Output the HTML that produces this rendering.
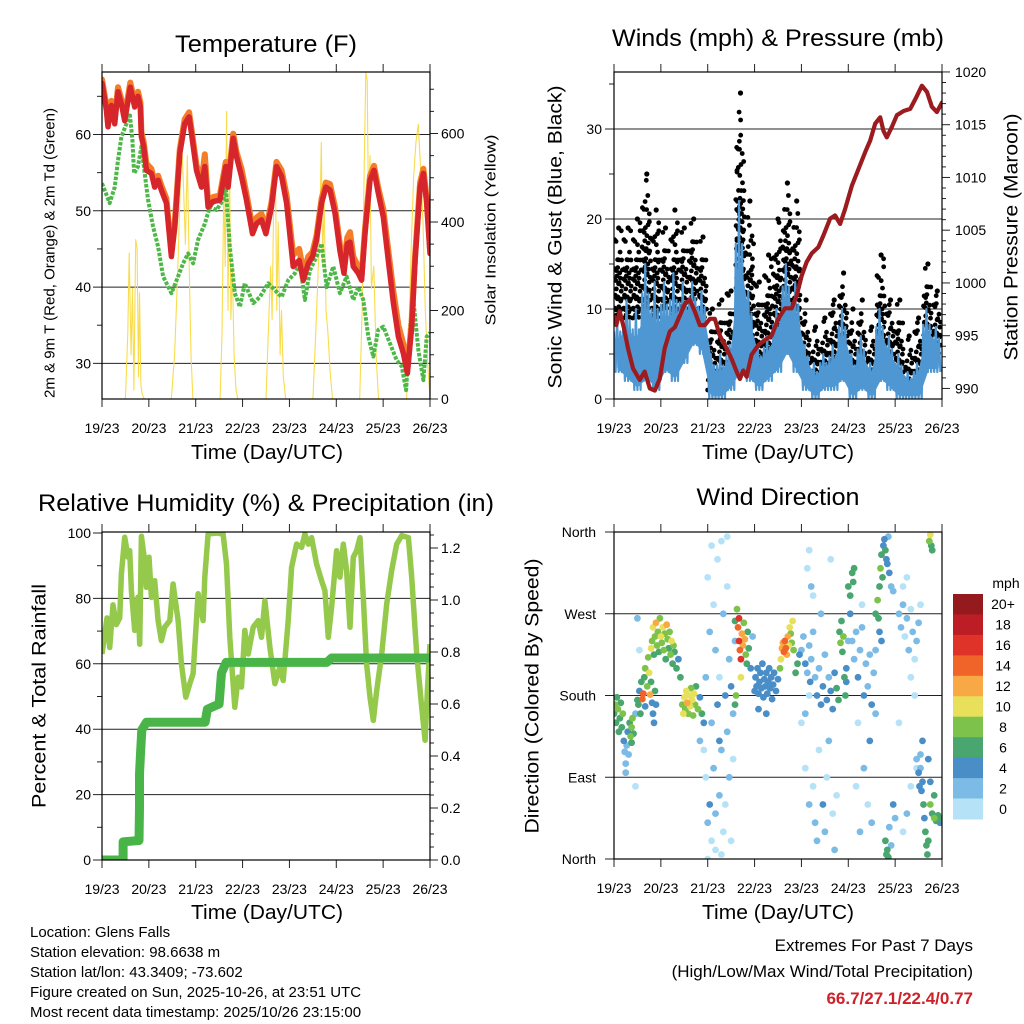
<!DOCTYPE html>
<html><head><meta charset="utf-8"><title>Glens Falls Meteogram</title>
<style>
html,body{margin:0;padding:0;background:#fff;}
svg{display:block;font-family:"Liberation Sans",Arial,sans-serif;}
.tl{font-size:14px;fill:#000;}
</style></head>
<body>
<svg id="chart" width="1024" height="1024" viewBox="0 0 1024 1024" xmlns="http://www.w3.org/2000/svg">
<defs>
<clipPath id="c1"><rect x="102" y="72" width="328" height="327"/></clipPath>
<clipPath id="c2"><rect x="614" y="72" width="328" height="327"/></clipPath>
<clipPath id="c3"><rect x="102" y="532" width="328" height="328"/></clipPath>
<clipPath id="c4"><rect x="614" y="532" width="328" height="327"/></clipPath>
</defs>
<rect x="0" y="0" width="1024" height="1024" fill="#fff"/>

<text x="266" y="52" font-size="24" text-anchor="middle" textLength="182" lengthAdjust="spacingAndGlyphs">Temperature (F)</text>
<text x="778" y="46" font-size="24" text-anchor="middle" textLength="332" lengthAdjust="spacingAndGlyphs">Winds (mph) &amp; Pressure (mb)</text>
<text x="266" y="511" font-size="24" text-anchor="middle" textLength="456" lengthAdjust="spacingAndGlyphs">Relative Humidity (%) &amp; Precipitation (in)</text>
<text x="778" y="505" font-size="24" text-anchor="middle" textLength="163" lengthAdjust="spacingAndGlyphs">Wind Direction</text>

<text x="267" y="459" font-size="20" text-anchor="middle" textLength="152" lengthAdjust="spacingAndGlyphs">Time (Day/UTC)</text>
<text x="778" y="459" font-size="20" text-anchor="middle" textLength="152" lengthAdjust="spacingAndGlyphs">Time (Day/UTC)</text>
<text x="267" y="919" font-size="20" text-anchor="middle" textLength="152" lengthAdjust="spacingAndGlyphs">Time (Day/UTC)</text>
<text x="778" y="919" font-size="20" text-anchor="middle" textLength="152" lengthAdjust="spacingAndGlyphs">Time (Day/UTC)</text>

<text transform="translate(50,253) rotate(-90)" font-size="15" text-anchor="middle" dominant-baseline="central" textLength="290" lengthAdjust="spacingAndGlyphs">2m &amp; 9m T (Red, Orange) &amp; 2m Td (Green)</text>
<text transform="translate(491,230) rotate(-90)" font-size="15" text-anchor="middle" dominant-baseline="central" textLength="191" lengthAdjust="spacingAndGlyphs">Solar Insolation (Yellow)</text>
<text transform="translate(556,237) rotate(-90)" font-size="19" text-anchor="middle" dominant-baseline="central" textLength="303" lengthAdjust="spacingAndGlyphs">Sonic Wind &amp; Gust (Blue, Black)</text>
<text transform="translate(1012,237) rotate(-90)" font-size="19" text-anchor="middle" dominant-baseline="central" textLength="247" lengthAdjust="spacingAndGlyphs">Station Pressure (Maroon)</text>
<text transform="translate(40,696) rotate(-90)" font-size="19" text-anchor="middle" dominant-baseline="central" textLength="224" lengthAdjust="spacingAndGlyphs">Percent &amp; Total Rainfall</text>
<text transform="translate(533,696) rotate(-90)" font-size="19" text-anchor="middle" dominant-baseline="central" textLength="275" lengthAdjust="spacingAndGlyphs">Direction (Colored By Speed)</text>

<g font-size="15">
<text x="30" y="937">Location: Glens Falls</text>
<text x="30" y="957">Station elevation: 98.6638 m</text>
<text x="30" y="977">Station lat/lon: 43.3409; -73.602</text>
<text x="30" y="997">Figure created on Sun, 2025-10-26, at 23:51 UTC</text>
<text x="30" y="1017">Most recent data timestamp: 2025/10/26 23:15:00</text>
</g>
<g text-anchor="end">
<text x="973" y="951" font-size="17">Extremes For Past 7 Days</text>
<text x="973" y="977" font-size="17">(High/Low/Max Wind/Total Precipitation)</text>
<text x="973" y="1004" font-size="17" font-weight="bold" fill="#cc2229">66.7/27.1/22.4/0.77</text>
</g>
<text x="1006" y="588" font-size="14" text-anchor="middle">mph</text>
</svg>

<script>
// ---------- Data ----------
const dayLabels = ['19/23','20/23','21/23','22/23','23/23','24/23','25/23','26/23'];
const tempTimes = [0,.093,.128,.199,.271,.342,.413,.484,.605,.698,.769,.819,.840,.890,.947,1.054,1.125,1.197,1.268,1.375,1.481,1.553,1.660,1.766,1.859,1.909,2.016,2.123,2.194,2.265,2.372,2.514,2.642,2.692,2.799,2.870,2.977,3.084,3.212,3.298,3.405,3.497,3.618,3.725,3.832,3.939,4.081,4.209,4.295,4.402,4.494,4.580,4.687,4.779,4.865,4.972,5.078,5.164,5.235,5.292,5.363,5.470,5.541,5.613,5.720,5.805,5.897,6.004,6.111,6.218,6.325,6.432,6.517,6.610,6.681,6.788,6.859,6.930,7.0];
const temp2m = [66.7,63.2,61,63.8,61.4,65.6,64,61.8,66.2,63.6,65,63.6,59.7,58.4,55.3,54.9,53.1,54,52.7,51,44,47.9,57.5,61.4,62.3,60.1,55.3,53.1,55.8,50.5,51.2,51.4,55.8,53.1,59.5,57.1,54.5,51.4,47,48.3,48.8,47,50.5,55.8,54.5,51,42.7,43.5,40.9,43.1,44,46.2,51,53.1,52.7,49.7,44.8,41.8,45.7,45.9,42.7,41.8,40.9,47,54,55.3,52.3,49.2,43.5,37.9,33.5,31.3,28.7,34.8,43.5,53.1,54.9,51,44.4];
const temp9m = [67.2,63.8,61.6,64.4,62,66.2,64.6,62.4,66.8,64.2,65.6,64.2,60.3,59,56.2,55.5,53.7,54.6,53.3,51.6,44.6,48.5,58.1,62,62.9,60.7,56,53.8,57.4,51.1,51.8,52,56.4,53.7,60.1,57.7,55.5,52.2,47.8,49.1,49.6,47.6,51.1,56.4,55.3,52,44.2,45,42,44,44.6,46.8,51.6,53.7,53.5,50.5,45.6,43,46.5,47.2,44,42.6,41.5,47.6,54.6,55.9,53,50.2,44.8,39.4,35,32.5,29.3,35.4,44.1,53.7,55.5,51.6,45];
const dewTimes = [0,.164,.271,.342,.413,.520,.591,.648,.684,.769,.840,.912,.983,1.090,1.197,1.303,1.481,1.624,1.731,1.838,1.944,2.051,2.194,2.301,2.443,2.585,2.642,2.728,2.835,2.942,3.048,3.226,3.369,3.547,3.689,3.832,3.974,4.117,4.224,4.330,4.437,4.580,4.687,4.793,4.936,5.078,5.221,5.363,5.470,5.577,5.684,5.791,5.897,6.004,6.147,6.289,6.396,6.489,6.574,6.645,6.752,6.859,6.930,7.0];
const dew2m = [53.6,51,53.1,56.6,59.7,61.4,62.8,59.3,54.9,55.8,58.4,54.9,51.4,47.9,45.3,41.4,39.2,41.4,43.1,44.4,43.1,46.2,48.3,50.5,50.1,51.4,53.1,45.3,39.2,37.4,40.5,37.9,38.7,40.5,39.6,38.7,40.9,41.8,43.1,38.3,42.2,44,45.7,40,42.7,39.2,41.4,38.3,40,38.3,33.5,30.9,34.4,34.8,32.6,30.4,29.6,26.5,34.8,38.3,31.7,27.8,33.5,34];
const solarTimes = [0,0.5,0.55,0.58,0.62,0.65,0.68,0.72,0.75,0.78,0.8,0.83,0.86,0.9,1.48,1.55,1.62,1.66,1.7,1.74,1.78,1.82,1.86,1.9,1.94,2.52,2.56,2.6,2.63,2.66,2.69,2.72,2.75,2.78,2.82,2.86,2.9,3.5,3.55,3.6,3.63,3.67,3.7,3.73,3.76,3.8,3.83,3.87,3.92,4.5,4.55,4.6,4.65,4.68,4.71,4.74,4.78,4.82,4.87,4.92,5.5,5.55,5.6,5.63,5.66,5.69,5.72,5.75,5.8,5.85,5.9,6.5,6.55,6.6,6.65,6.7,6.75,6.8,6.85,6.9,6.95,7];
const solarVals = [0,0,150,330,100,250,20,360,340,50,240,30,10,0,0,100,300,450,580,480,350,550,300,100,0,0,150,480,300,650,200,550,180,300,100,20,0,0,150,300,180,500,520,200,400,100,200,50,0,0,120,250,400,580,300,450,200,150,60,0,0,200,550,740,720,400,550,250,300,100,0,0,150,350,500,580,620,520,400,200,80,0];
const windLo = [3,2,1,2,1,3,2,4,6,5,0,0,1,3,2,1,2,3,5,3,1,0,1,1,2,0,1,0,2,1,0,0,0,3,3];
const windHi = [9,11,10,15,13,13,14,13,13,12,5,5,6,22,12,6,7,10,15,13,6,4,5,6,10,5,7,4,10,7,5,3,4,10,8];
const gustLo = [9,9,9,10,9,10,9,10,11,9,1,2,3,8,5,4,5,7,10,8,3,2,3,4,6,2,3,2,5,4,2,1,2,6,5];
const gustHi = [19,19,20,25,21,19,21,19,20,18,10,11,12,34,22,13,16,20,24,22,11,8,9,11,14,10,11,8,16,11,11,7,9,15,12];
const presTimes = [0,.05,.121,.214,.299,.406,.549,.656,.763,.870,.976,1.083,1.190,1.297,1.404,1.511,1.618,1.725,1.832,1.939,2.046,2.152,2.259,2.366,2.509,2.616,2.687,2.758,2.830,2.937,3.079,3.222,3.364,3.507,3.649,3.792,3.899,4.006,4.113,4.219,4.362,4.469,4.611,4.718,4.825,4.932,5.075,5.217,5.360,5.467,5.574,5.681,5.752,5.823,5.930,6.037,6.180,6.322,6.429,6.572,6.679,6.785,6.892,7.0];
const presVals = [996.8,996,997.3,995.7,993.8,991.9,990.8,991.6,990,989.8,990.9,993.8,995.4,995.8,996.9,998,998.4,997.3,996,996,996.6,996.6,995,994.1,992.8,991.6,990.9,991.7,991.1,993.2,994.1,994.6,995,996.6,997.6,997.6,998.8,1000.7,1002,1002.8,1003.4,1004.5,1006.1,1006.4,1005.6,1007,1009.2,1010.8,1012.4,1013.5,1015.1,1015.7,1014.4,1013.8,1014.8,1015.9,1016.3,1016.5,1017.4,1018.7,1018.1,1016.7,1016.2,1017.1];
const rhTimes = [0,.057,.107,.164,.235,.306,.377,.413,.484,.556,.591,.627,.698,.769,.805,.840,.912,.947,1.004,1.054,1.125,1.197,1.268,1.339,1.446,1.517,1.624,1.695,1.788,1.873,1.944,2.051,2.158,2.194,2.265,2.443,2.585,2.657,2.728,2.835,2.906,2.977,3.048,3.120,3.226,3.333,3.405,3.476,3.583,3.689,3.796,3.868,3.974,4.046,4.152,4.259,4.330,4.402,4.473,4.580,4.687,4.758,4.829,4.900,5.007,5.078,5.150,5.221,5.292,5.363,5.434,5.506,5.577,5.648,5.719,5.791,5.862,5.969,6.075,6.182,6.289,6.396,6.538,6.610,6.716,6.823,6.895,6.944,7.0];
const rhVals = [63,69,74,65,78,72,74,87.5,98.7,92.6,94.6,82.4,70.2,80.4,66,99,91.5,83.4,92.6,80.3,85.4,73.2,67.1,71.2,73.2,84.4,73.2,60,49.8,53.9,57,81.4,73.2,86.5,99.7,100,99.7,90.5,68.1,46.7,55.9,52.9,70.2,63,71.2,73.2,68.1,79.3,65,53.9,59,54.9,73.2,89.5,96.6,95.6,99.7,96.6,98.6,90.5,85.4,82.4,68.1,77.3,94.6,86.5,96.6,88.6,71.2,92.6,94.6,98.6,80.3,60,49.8,42.7,51.8,63,78.3,88.6,96.6,99.2,98.6,86.5,63,46.7,36.6,51.8,66];
const precipTimes = [0,0.45,0.45,0.79,0.8,0.8,0.82,0.85,0.95,2.2,2.25,2.5,2.55,2.65,4.8,4.9,7];
const precipVals = [0,0,0.07,0.075,0.2,0.33,0.4,0.5,0.53,0.53,0.58,0.6,0.72,0.76,0.76,0.777,0.777];
// Wind direction observations: [hours since 19/23, direction deg, speed mph]
const dirObs = [
[0,160,7],[0.5,170,8],[1,150,6],[1.5,178,7],[2,165,8],[2.5,140,6],[3,155,7],[3.5,172,6],[4,145,6],[4.5,160,8],[5,130,4],[5.5,118,3],[6,105,2],[6,95,2],[6.5,125,3],[7,140,5],[7.5,115,3],[8,150,7],[8.5,135,8],[9,145,9],[9,128,7],[9.5,155,8],[10,138,6],[11,160,3],[12,175,6],[11,80,1],
[12.5,170,6],[13,185,5],[13.5,160,7],[14,195,6],[14.5,176,15],[15,182,14],[15.5,200,6],[16,210,8],[16,168,4],[17,190,9],[17.5,222,8],[18,205,11],[18.5,181,12],[19,195,6],[19.5,172,4],[20,160,5],[20.5,150,4],[21,185,6],[21.5,170,4],[13,230,1],[12,265,2],
[19,232,10],[19.5,240,8],[20,255,10],[20.5,225,6],[21,245,9],[21.5,260,12],[22,235,8],[22.5,250,9],[23,228,7],[23.5,265,8],[24,245,10],[24.5,238,9],[25,255,11],[25.5,230,8],[26,248,9],[26.5,220,6],[27,258,12],[27.5,242,8],[28,232,7],[28.5,250,9],[29,225,8],[29.5,240,10],[30,215,7],[30.5,235,8],[31,228,6],[32,210,7],[33,220,5],[34,200,6],
[35,170,9],[35.5,160,10],[36,178,11],[36.5,165,9],[37,185,10],[37.5,172,12],[38,160,8],[38.5,180,10],[39,168,11],[39.5,188,9],[40,175,10],[40.5,158,8],[41,182,10],[41.5,170,9],[42,190,7],[43,165,8],[44,178,5],[45,160,6],[46,150,4],[44,130,2],
[46,120,1],[47,200,2],[47,90,1],[48,40,2],[48,310,1],[49,250,3],[49,60,4],[50,20,1],[50,150,2],[51,280,1],[51,100,3],[52,230,2],[52,10,1],[53,330,1],[53,170,4],[54,70,2],[54,200,1],[55,350,1],[55,120,3],[56,270,2],[56,30,1],[57,180,4],[57,60,1],[58,140,2],[58,300,1],[59,90,2],[59,220,3],[60,20,1],[60,190,4],[61,160,2],[61,110,1],[62,240,3],[48,0,1],[55,5,1],[58,355,1],[50,345,1],[52,50,3],[54,130,4],
[62,262,7],[63,275,8],[63.5,255,15],[64,265,17],[64,240,16],[64.5,230,15],[65,220,16],[65,200,10],[65.5,248,13],[66,235,12],[66.5,260,9],[67,242,13],[67.5,225,8],[68,215,7],[68.5,250,7],[69,232,6],[70,210,4],[71,245,3],[62,170,7],[62.5,180,8],
[72,185,4],[72.5,200,5],[73,190,4],[73.5,210,5],[74,182,4],[74.5,195,5],[75,205,4],[75.5,188,5],[76,215,4],[76.5,178,5],[77,198,4],[77.5,190,5],[78,205,4],[78.5,182,5],[79,195,4],[79.5,210,4],[80,188,5],[80.5,200,4],[81,176,4],[81.5,192,5],[82,205,4],[83,185,5],[84,198,4],[74,165,4],[78,160,4],
[85,210,8],[85.5,220,10],[86,232,12],[86.5,238,13],[87,228,14],[87.5,240,15],[88,232,14],[88.5,225,12],[89,245,13],[89.5,235,11],[90,255,10],[90.5,248,9],[91,238,8],[91.5,262,10],[92,230,8],[93,205,6],[94,215,7],[95,225,5],
[96,230,3],[97,245,2],[98,215,4],[99,205,3],[100,235,2],[100.5,195,4],[101,220,3],[102,250,2],[103,200,3],[104,180,4],[105,210,3],[106,170,5],[107,190,4],[108,225,3],[109,175,4],[110,200,3],[111,185,5],[112,165,4],[113,205,4],[114,188,6],[115,175,7],[115.5,250,7],[116,238,8],[116.5,262,7],[117,228,6],[117.5,245,8],[118,200,6],[118.5,180,7],[119,195,5],[100,180,1],[98,160,2],[96,150,1],
[99,320,1],[100,340,1],[101,300,2],[102,290,1],[98,100,1],[100,60,2],[102,80,1],[103,40,2],[104,20,3],[105,120,1],[107,60,4],[108,30,3],[109,90,1],[110,130,2],[112,50,1],[113,10,2],[114,70,1],[111,330,1],[106,270,2],
[120,300,7],[121,290,6],[122,315,7],[122.5,305,6],[123,320,7],[121,270,4],[120,240,3],[119,210,4],
[122,240,3],[123,220,2],[124,250,3],[125,200,4],[126,230,2],[127,255,3],[128,180,4],[129,215,3],[130,190,2],[131,225,3],[132,170,4],[133,205,3],[134,160,2],[127,280,1],[125,150,1],[128,100,2],[130,60,1],[126,30,2],[124,80,1],[131,130,4],[132,40,2],
[134,270,7],[135,285,8],[135.5,265,6],[136,300,7],[136.5,320,8],[137,335,7],[137.5,310,6],[138,345,5],[138.5,352,4],[139,340,6],[139.5,330,4],[140,325,5],[140.5,355,3],[141,315,4],[142,300,3],[143,295,2],[136,250,5],[137,240,4],[134,230,3],
[139,20,6],[139.5,5,7],[140,10,6],[141,35,2],[142,15,3],[140.5,2,6],[143,60,4],[144,45,3],
[146,270,2],[147,255,3],[148,280,2],[149,245,1],[150,265,2],[151,230,3],[152,275,1],[153,250,2],[154,220,1],[155,240,2],[156,260,3],[157,280,1],[148,300,1],[150,310,1],[152,200,1],[154,180,1],[146,150,1],[150,50,2],[152,80,1],[148,30,1],[155,100,1],
[155,110,3],[156,95,4],[156.5,80,4],[157,100,3],[157.5,75,5],[158,85,4],[158.5,60,6],[159,45,5],[159.5,30,6],[160,15,7],[160.5,5,7],[161,20,6],[158,130,4],[157,115,2],
[161.5,350,9],[162,357,10],[162.5,345,7],[163,340,6],[162,60,8],[163,50,7],[164,45,8],[165,42,7],[166,48,6],[167,40,5],[168,44,6],[164,70,7],[161,110,4],[162,85,4]
];
const speedLabels = ['0','2','4','6','8','10','12','14','16','18','20+'];
const speedColors = ['#b5e2f7','#7cbbe6','#4a8ec8','#49a66f','#7cc24b','#e8e05a','#f8a945','#f06329','#df3329','#bd1d25','#951a1e'];

// ---------- Helpers ----------
const NS = 'http://www.w3.org/2000/svg';
const svg = document.getElementById('chart');
function mk(tag, attrs, parent) {
  const e = document.createElementNS(NS, tag);
  for (const k in attrs) e.setAttribute(k, attrs[k]);
  (parent || svg).appendChild(e);
  return e;
}
const DAYW = 328 / 7;
const xL = t => 102 + t * DAYW;
const xR = t => 614 + t * DAYW;
const yTemp = v => 399 - (v - 25.33) * 7.63;
const ySol = w => 399 - w * 0.4425;
const yWind = v => 399 - v * 9;
const yPres = p => 399 - (p - 989) * 10.55;
const yRH = v => 860 - v * 3.27;
const yPr = v => 860 - v * 260;
const yDir = d => 859 - d * 0.9083;

function pathFrom(xs, ys, fx, fy) {
  let d = '';
  for (let i = 0; i < xs.length; i++) d += (i ? 'L' : 'M') + fx(xs[i]).toFixed(1) + ',' + fy(ys[i]).toFixed(1);
  return d;
}

// ---------- Axes ----------
function grid(name, x0, x1, y) {
  const l = mk('line', {x1: x0 - 9, x2: x1, y1: y, y2: y, stroke: '#222', 'stroke-width': 1});
  
  
}
function tick(name, x1, y1, x2, y2) {
  const l = mk('line', {x1: x1, y1: y1, x2: x2, y2: y2, stroke: '#222', 'stroke-width': 1});
  
  
}
function label(name, x, y, txt, anchor) {
  const t = mk('text', {x: x, y: y, class: 'tl', 'text-anchor': anchor || 'middle', 'dominant-baseline': 'central'});
  t.textContent = txt;
  
  
}
function xAxis(x0, top, bot, prefix) {
  for (let d = 0; d < dayLabels.length; d++) {
    const x = x0 + d * DAYW;
    tick(prefix + '-x-tick', x, top - 8, x, top);
    tick(prefix + '-x-tick', x, bot, x, bot + 8);
    label(prefix + '-x-tick-label', x, bot + 29, dayLabels[d]);
  }
}
function frame(name, x, y, w, h) {
  const r = mk('rect', {x: x, y: y, width: w, height: h, fill: 'none', stroke: '#000', 'stroke-width': 1.2});
  
  
}

for (const v of [30, 40, 50, 60]) { grid('temp-gridline', 102, 430, yTemp(v)); label('temp-y-tick-label', 91, yTemp(v), String(v), 'end'); }
for (const v of [35, 45, 55, 65]) tick('temp-minor-tick', 97, yTemp(v), 102, yTemp(v));
for (let w = 0; w <= 700; w += 50) { const big = w % 200 === 0; tick('solar-tick', 430, ySol(w), 430 + (big ? 8 : 4), ySol(w)); if (big) label('solar-y-tick-label', 441, ySol(w), String(w), 'start'); }
xAxis(102, 72, 399, 'temp');
for (const v of [0, 10, 20, 30]) { grid('wind-gridline', 614, 942, yWind(v)); label('wind-y-tick-label', 602, yWind(v), String(v), 'end'); }
for (const v of [5, 15, 25, 35]) tick('wind-minor-tick', 609, yWind(v), 614, yWind(v));
for (let p = 990; p <= 1020; p++) { const big = p % 5 === 0; tick('pressure-tick', 942, yPres(p), 942 + (big ? 8 : 4), yPres(p)); if (big) label('pressure-y-tick-label', 955, yPres(p), String(p), 'start'); }
xAxis(614, 72, 399, 'wind');
for (const v of [0, 20, 40, 60, 80, 100]) { if (v > 0 && v < 100) grid('rh-gridline', 102, 430, yRH(v)); else tick('rh-tick', 93, yRH(v), 102, yRH(v)); label('rh-y-tick-label', 91, yRH(v), String(v), 'end'); }
for (const v of [10, 30, 50, 70, 90]) tick('rh-minor-tick', 97, yRH(v), 102, yRH(v));
for (let k = 0; k <= 25; k++) { const v = k * 0.05; const big = k % 4 === 0; tick('precip-tick', 430, yPr(v), 430 + (big ? 8 : 4), yPr(v)); if (big) label('precip-y-tick-label', 441, yPr(v), v.toFixed(1), 'start'); }
xAxis(102, 532, 860, 'rh');
const dirNames = ['North', 'East', 'South', 'West', 'North'];
for (let i = 0; i < 5; i++) { const d = i * 90; if (i > 0 && i < 4) grid('dir-gridline', 614, 942, yDir(d)); else tick('dir-tick', 605, yDir(d), 614, yDir(d)); label('dir-y-tick-label', 596, yDir(d), dirNames[i], 'end'); }
xAxis(614, 532, 859, 'dir');

// ---------- Panel 1 series ----------
const g1 = mk('g', {'clip-path': 'url(#c1)'});


const sol = mk('path', {d: pathFrom(solarTimes, solarVals, xL, ySol), fill: 'none', stroke: '#f9dc4c', 'stroke-width': 1.1, 'stroke-linejoin': 'round'}, g1);


const dp = mk('path', {d: pathFrom(dewTimes, dew2m, xL, yTemp), fill: 'none', stroke: '#4db848', 'stroke-width': 4, 'stroke-dasharray': '3.5 1.5', 'stroke-linejoin': 'round'}, g1);


const t9 = mk('path', {d: pathFrom(tempTimes, temp9m, xL, yTemp), fill: 'none', stroke: '#f47d2a', 'stroke-width': 6, 'stroke-linejoin': 'round', 'stroke-linecap': 'round'}, g1);


const t2 = mk('path', {d: pathFrom(tempTimes, temp2m, xL, yTemp), fill: 'none', stroke: '#d7262b', 'stroke-width': 5.5, 'stroke-linejoin': 'round', 'stroke-linecap': 'round'}, g1);


frame('temperature-frame', 102, 72, 328, 327);

// ---------- Panel 2 series ----------
const g2 = mk('g', {'clip-path': 'url(#c2)'});


const BIN = 0.2;
const NB = windHi.length;
// gust dots (scattered layout within each bin's gust range)
for (let i = 0; i < NB; i++) {
  const span = gustHi[i] - gustLo[i];
  for (let j = 0; j < 7; j++) {
    const t = i * BIN + 0.012 + j * 0.026;
    let k = 0;
    let v = gustLo[i] + ((j * 0.61) % 1) * 1.5;
    while (v <= gustHi[i] - 0.3) {
      const frac = (v - gustLo[i]) / (span || 1);
      if (!(frac > 0.55 && (j + k) % 2 === 1) && !(frac > 0.8 && (j + k) % 3 !== 0)) {
        const dx = (((k * 7 + j * 3) % 5) - 2) * 0.006;
        const c = mk('circle', {cx: xR(t + dx).toFixed(1), cy: yWind(v).toFixed(1), r: 2.4, fill: '#000'}, g2);
        
        
      }
      v += 1.1 + ((k + j) % 3) * 0.35;
      k++;
    }
  }
  const top = mk('circle', {cx: xR(i * BIN + 0.1).toFixed(1), cy: yWind(gustHi[i]).toFixed(1), r: 2.6, fill: '#000'}, g2);
  
  
}
// blue band core: smooth between bin centres
let bandTop = '', bandBot = '';
for (let i = 0; i < NB; i++) {
  const x = xR(i * BIN + BIN / 2).toFixed(1);
  const core = windLo[i] + (windHi[i] - windLo[i]) * 0.6;
  bandTop += (i ? 'L' : 'M') + x + ',' + yWind(core).toFixed(1);
}
for (let i = NB - 1; i >= 0; i--) {
  bandBot += 'L' + xR(i * BIN + BIN / 2).toFixed(1) + ',' + yWind(windLo[i] + 0.5).toFixed(1);
}
const band = mk('path', {d: bandTop + bandBot + 'Z', fill: '#4f97d3', stroke: '#4f97d3', 'stroke-width': 3, 'stroke-linejoin': 'round'}, g2);


// spikes
let wz = '';
for (let i = 0; i < NB; i++) {
  for (let k = 0; k < 6; k++) {
    const t = i * BIN + k * (BIN / 6);
    const v = k % 2 === 0 ? (k === 2 ? windHi[i] : windLo[i] + (windHi[i] - windLo[i]) * 0.75) : windLo[i];
    wz += (wz ? 'L' : 'M') + xR(t).toFixed(1) + ',' + yWind(v).toFixed(1);
  }
}
const wl = mk('path', {d: wz, fill: 'none', stroke: '#4f97d3', 'stroke-width': 2.2, 'stroke-linejoin': 'round'}, g2);


const pl = mk('path', {d: pathFrom(presTimes, presVals, xR, yPres), fill: 'none', stroke: '#9b1b1e', 'stroke-width': 4.2, 'stroke-linejoin': 'round', 'stroke-linecap': 'round'}, g2);


frame('wind-frame', 614, 72, 328, 327);

// ---------- Panel 3 series ----------
const g3 = mk('g', {'clip-path': 'url(#c3)'});


const rh = mk('path', {d: pathFrom(rhTimes, rhVals, xL, yRH), fill: 'none', stroke: '#95c94c', 'stroke-width': 5.5, 'stroke-linejoin': 'round'}, g3);


const pr = mk('path', {d: pathFrom(precipTimes, precipVals, xL, yPr), fill: 'none', stroke: '#49b548', 'stroke-width': 9, 'stroke-linejoin': 'round', 'stroke-linecap': 'round'}, g3);


frame('humidity-frame', 102, 532, 328, 328);

// ---------- Panel 4 series ----------
const g4 = mk('g', {'clip-path': 'url(#c4)'});


const order = dirObs.map((o, i) => i).sort((a, b) => dirObs[a][2] - dirObs[b][2]);
for (const i of order) {
  const o = dirObs[i];
  const ci = Math.min(10, Math.floor(o[2] / 2));
  const c = mk('circle', {cx: xR(o[0] / 24).toFixed(1), cy: yDir(o[1]).toFixed(1), r: 3.4, fill: speedColors[ci]}, g4);
  
  
}
frame('wind-direction-frame', 614, 532, 328, 327);

// Colorbar
const cbH = 225 / speedColors.length;
for (let i = 0; i < speedColors.length; i++) {
  const idx = speedColors.length - 1 - i;
  const r = mk('rect', {x: 953, y: (594 + i * cbH).toFixed(1), width: 30, height: (cbH + 0.5).toFixed(1), fill: speedColors[idx]});
  
  
  label('colorbar-label', 1003, 594 + (i + 0.5) * cbH, speedLabels[idx]);
}
</script>
</body></html>
